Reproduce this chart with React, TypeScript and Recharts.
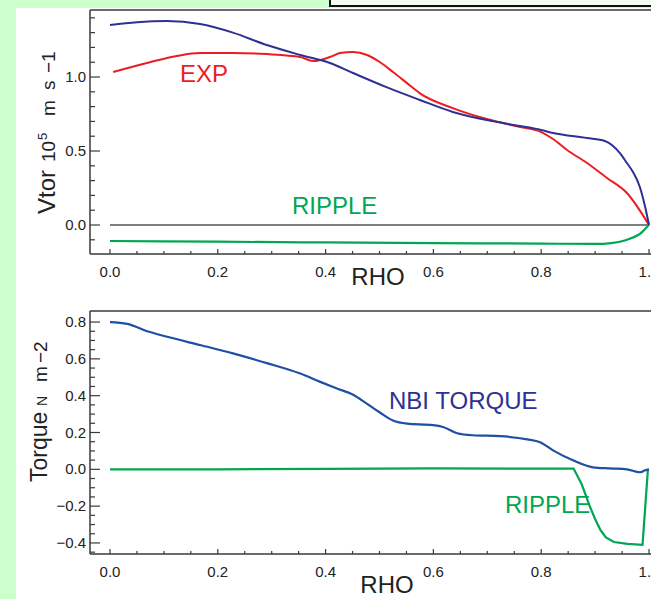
import React from 'react'
import { LineChart, Line, XAxis, YAxis, ReferenceLine } from 'recharts'

// axis ticks
const rhoMajor = [0, 0.2, 0.4, 0.6, 0.8, 1.0]
const rhoMinor = [0.05, 0.1, 0.15, 0.25, 0.3, 0.35, 0.45, 0.5, 0.55, 0.65, 0.7, 0.75, 0.85, 0.9, 0.95]
const vtorMajor = [0, 0.5, 1.0]
const vtorMinor = [-0.1, 0.1, 0.2, 0.3, 0.4, 0.6, 0.7, 0.8, 0.9, 1.1, 1.2, 1.3, 1.4]
const torqueMajor = [-0.4, -0.2, 0, 0.2, 0.4, 0.6, 0.8]
const torqueMinor = [-0.45, -0.35, -0.3, -0.25, -0.15, -0.1, -0.05, 0.05, 0.1, 0.15, 0.25, 0.3, 0.35, 0.45, 0.5, 0.55, 0.65, 0.7, 0.75]

// top panel: toroidal velocity (1e5 m/s)
const rhoVtorModel = [0, 0.05, 0.106, 0.167, 0.228, 0.291, 0.353, 0.408, 0.451, 0.514, 0.575, 0.636, 0.699, 0.761, 0.8, 0.822, 0.885, 0.918, 0.946, 0.959, 0.97, 0.983, 0.993, 1.0]
const vtorModel = [1.351, 1.37, 1.378, 1.358, 1.3, 1.216, 1.149, 1.095, 1.027, 0.93, 0.845, 0.764, 0.709, 0.669, 0.642, 0.622, 0.588, 0.568, 0.486, 0.419, 0.36, 0.257, 0.12, 0.0]

const rhoVtorExp = [0.006, 0.074, 0.124, 0.167, 0.228, 0.291, 0.353, 0.377, 0.408, 0.427, 0.451, 0.477, 0.501, 0.525, 0.551, 0.575, 0.636, 0.699, 0.761, 0.8, 0.822, 0.848, 0.885, 0.922, 0.959, 1.0]
const vtorExp = [1.034, 1.1, 1.142, 1.162, 1.162, 1.155, 1.135, 1.108, 1.135, 1.162, 1.169, 1.149, 1.1, 1.034, 0.959, 0.89, 0.79, 0.716, 0.662, 0.628, 0.581, 0.507, 0.419, 0.318, 0.216, 0.0]

const rhoVtorRipple = [0.0, 0.2, 0.4, 0.6, 0.8, 0.9, 0.93, 0.955, 0.97, 0.985, 0.993, 1.0]
const vtorRipple = [-0.108, -0.113, -0.118, -0.122, -0.126, -0.128, -0.122, -0.105, -0.085, -0.055, -0.025, 0.0]

// bottom panel: torque (N m-2)
const rhoNbi = [0, 0.032, 0.069, 0.106, 0.167, 0.228, 0.291, 0.353, 0.39, 0.42, 0.451, 0.475, 0.5, 0.525, 0.551, 0.599, 0.618, 0.644, 0.673, 0.724, 0.774, 0.798, 0.822, 0.859, 0.896, 0.928, 0.959, 0.983, 0.993, 1.0]
const torqueNbi = [0.8, 0.79, 0.75, 0.72, 0.675, 0.63, 0.577, 0.52, 0.475, 0.44, 0.405, 0.36, 0.31, 0.265, 0.248, 0.24, 0.23, 0.196, 0.185, 0.18, 0.163, 0.147, 0.103, 0.049, 0.011, 0.005, 0.0, -0.016, -0.005, 0.0]

const rhoRipple = [0.0, 0.2, 0.4, 0.6, 0.8, 0.86, 0.875, 0.89, 0.9, 0.91, 0.92, 0.935, 0.96, 0.988, 0.998]
const torqueRipple = [0.0, 0.0, 0.002, 0.005, 0.004, 0.004, -0.08, -0.2, -0.27, -0.33, -0.37, -0.395, -0.405, -0.41, 0.0]

const zip = (xs: number[], ys: number[]) => xs.map((r, i) => ({ r, v: ys[i] }))

const AXIS = '#3a3a3a'
const TXT = '#222'
const FONT = '"Liberation Sans", Arial, Helvetica, sans-serif'
const BLUE = '#2e3192'
const BLUE2 = '#1d4fa3'
const RED = '#ed1c24'
const GREEN = '#00a651'

const isIn = (arr: number[], v: number) => arr.some((m) => Math.abs(m - v) < 1e-6)
const fmt = (v: number) => (v < -1e-9 ? '\u2212' : '') + Math.abs(v).toFixed(1)
const allTicks = (a: number[], b: number[]) => [...a, ...b].sort((p, q) => p - q)

const bottomTick = (majors: number[]) => (p: any) => {
  const major = isIn(majors, p.payload.value)
  return (
    <g>
      <line x1={p.x} x2={p.x} y1={p.y} y2={p.y - (major ? 5 : 3)} stroke={AXIS} strokeWidth={1.2} />
      {major && (
        <text x={p.x} y={p.y + 23} textAnchor="middle" fontSize={15} fill={TXT} fontFamily={FONT}>
          {fmt(p.payload.value)}
        </text>
      )}
    </g>
  )
}

const topTick = (majors: number[]) => (p: any) => {
  const major = isIn(majors, p.payload.value)
  return <line x1={p.x} x2={p.x} y1={p.y} y2={p.y + (major ? 5 : 3)} stroke={AXIS} strokeWidth={1.2} />
}

const leftTick = (majors: number[]) => (p: any) => {
  const major = isIn(majors, p.payload.value)
  return (
    <g>
      <line x1={p.x} x2={p.x + (major ? 10 : 5)} y1={p.y} y2={p.y} stroke={AXIS} strokeWidth={1.2} />
      {major && (
        <text x={p.x - 4} y={p.y + 5} textAnchor="end" fontSize={15} fill={TXT} fontFamily={FONT}>
          {fmt(p.payload.value)}
        </text>
      )}
    </g>
  )
}

const rhoDomain = [-0.0371, 1.0204]
const rhoTicks = allTicks(rhoMajor, rhoMinor)

function VtorPanel() {
  return (
    <LineChart width={700} height={300} margin={{ top: 0, right: 40, bottom: 0, left: 0 }}>
      <XAxis xAxisId="top" orientation="top" type="number" domain={rhoDomain} allowDataOverflow
        ticks={rhoTicks} interval={0} height={10} tickSize={0} tickMargin={0}
        tickLine={false} axisLine={{ stroke: AXIS, strokeWidth: 1.5 }} tick={topTick(rhoMajor)} />
      <XAxis dataKey="r" type="number" domain={rhoDomain} allowDataOverflow
        ticks={rhoTicks} interval={0} height={46} tickSize={0} tickMargin={0}
        tickLine={false} axisLine={{ stroke: AXIS, strokeWidth: 1.5 }} tick={bottomTick(rhoMajor)} />
      <YAxis type="number" domain={[-0.196, 1.453]} allowDataOverflow
        ticks={allTicks(vtorMajor, vtorMinor)} interval={0} width={90} tickSize={0} tickMargin={0}
        tickLine={false} axisLine={{ stroke: AXIS, strokeWidth: 1.5 }} tick={leftTick(vtorMajor)} />
      <ReferenceLine segment={[{ x: 0, y: 0 }, { x: 1, y: 0 }]} stroke="#000" strokeWidth={1.2} />
      <Line data={zip(rhoVtorRipple, vtorRipple)} dataKey="v" type="monotone" stroke={GREEN} strokeWidth={2.2} dot={false} isAnimationActive={false} />
      <Line data={zip(rhoVtorExp, vtorExp)} dataKey="v" type="monotone" stroke={RED} strokeWidth={2} dot={false} isAnimationActive={false} />
      <Line data={zip(rhoVtorModel, vtorModel)} dataKey="v" type="monotone" stroke={BLUE} strokeWidth={2} dot={false} isAnimationActive={false} />
      <text x={180} y={82} fontSize={24} fill={RED} fontFamily={FONT}>EXP</text>
      <text x={292} y={214} fontSize={24} fill={GREEN} fontFamily={FONT}>RIPPLE</text>
      <text x={378} y={285} fontSize={24} fill={TXT} fontFamily={FONT} textAnchor="middle">RHO</text>
      <text transform="translate(55,214) rotate(-90)" fill={TXT} fontFamily={FONT}>
        <tspan x={0} fontSize={24}>Vtor</tspan>
        <tspan x={52} fontSize={19}>10</tspan>
        <tspan x={74} dy={-8} fontSize={13}>5</tspan>
        <tspan x={98} dy={8} fontSize={19}>m</tspan>
        <tspan x={124} fontSize={19}>s</tspan>
        <tspan x={141} fontSize={19}>{'\u22121'}</tspan>
      </text>
    </LineChart>
  )
}

function TorquePanel() {
  return (
    <LineChart width={700} height={299} margin={{ top: 0, right: 40, bottom: 0, left: 0 }}>
      <XAxis xAxisId="top" orientation="top" type="number" domain={rhoDomain} allowDataOverflow
        ticks={rhoTicks} interval={0} height={11} tickSize={0} tickMargin={0}
        tickLine={false} axisLine={{ stroke: AXIS, strokeWidth: 1.5 }} tick={topTick(rhoMajor)} />
      <XAxis dataKey="r" type="number" domain={rhoDomain} allowDataOverflow
        ticks={rhoTicks} interval={0} height={45} tickSize={0} tickMargin={0}
        tickLine={false} axisLine={{ stroke: AXIS, strokeWidth: 1.5 }} tick={bottomTick(rhoMajor)} />
      <YAxis type="number" domain={[-0.46, 0.86]} allowDataOverflow
        ticks={allTicks(torqueMajor, torqueMinor)} interval={0} width={90} tickSize={0} tickMargin={0}
        tickLine={false} axisLine={{ stroke: AXIS, strokeWidth: 1.5 }} tick={leftTick(torqueMajor)} />
      <Line data={zip(rhoRipple, torqueRipple)} dataKey="v" type="linear" stroke={GREEN} strokeWidth={2.2} dot={false} isAnimationActive={false} />
      <Line data={zip(rhoNbi, torqueNbi)} dataKey="v" type="monotone" stroke={BLUE2} strokeWidth={2.2} dot={false} isAnimationActive={false} />
      <text x={389} y={109} fontSize={24} fill={BLUE} fontFamily={FONT}>NBI TORQUE</text>
      <text x={505} y={213} fontSize={24} fill={GREEN} fontFamily={FONT}>RIPPLE</text>
      <text x={387} y={293} fontSize={24} fill={TXT} fontFamily={FONT} textAnchor="middle">RHO</text>
      <text transform="translate(47,182) rotate(-90)" fill={TXT} fontFamily={FONT}>
        <tspan x={0} fontSize={23}>Torque</tspan>
        <tspan x={76} fontSize={14}>N</tspan>
        <tspan x={100} fontSize={19}>m</tspan>
        <tspan x={119} fontSize={19}>{'\u22122'}</tspan>
      </text>
    </LineChart>
  )
}

export default function App() {
  return (
    <div style={{ position: 'fixed', left: 0, top: 0, width: 651, height: 599, overflow: 'hidden', background: '#ccffcc' }}>
      <div style={{ position: 'absolute', left: 16, top: 8, width: 640, height: 600, background: '#fff' }} />
      <div style={{ position: 'absolute', left: 329, top: -2, width: 330, height: 5, border: '2px solid #111', background: '#f2fff2' }} />
      <div style={{ position: 'absolute', left: 0, top: 0 }}>
        <VtorPanel />
      </div>
      <div style={{ position: 'absolute', left: 0, top: 300 }}>
        <TorquePanel />
      </div>
    </div>
  )
}
